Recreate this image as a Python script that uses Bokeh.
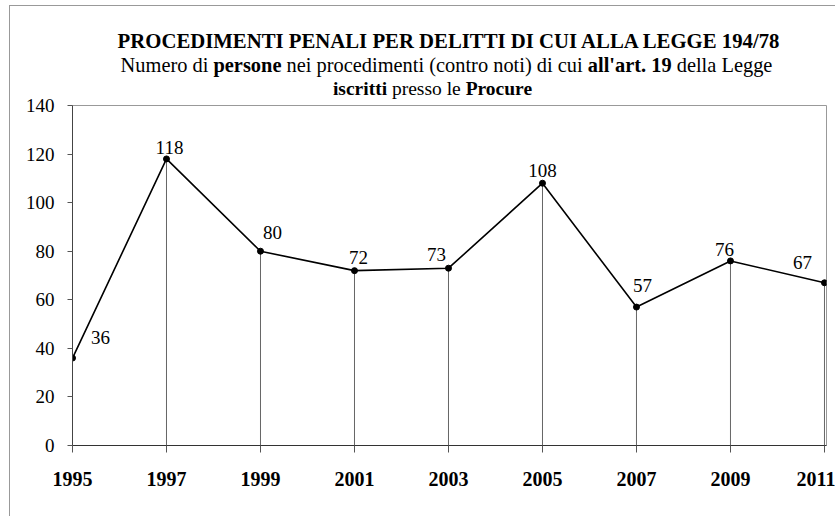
from bokeh.plotting import figure
from bokeh.models import ColumnDataSource, Range1d, FixedTicker, Div
from bokeh.layouts import column
from bokeh.embed import file_html
from bokeh.resources import INLINE

# ---- data ----
years = [1995, 1997, 1999, 2001, 2003, 2005, 2007, 2009, 2011]
persone = [36, 118, 80, 72, 73, 108, 57, 76, 67]
x_tick_labels = ["1995", "1997", "1999", "2001", "2003", "2005", "2007", "2009", "2011"]
y_ticks = [0, 20, 40, 60, 80, 100, 120, 140]

title_line = "PROCEDIMENTI PENALI PER DELITTI DI CUI ALLA LEGGE 194/78"

# ---- label placement (screen pixels, style only) ----
label_dx = [28, 3, 12, 4, -12, 0, 6, -6, -22]
label_dy = [-21, -11, -19, -13, -14, -13, -22, -11, -20]

FONT = "Liberation Serif"

src = ColumnDataSource(dict(
    x=years, y=persone, txt=[str(v) for v in persone],
    y0=[0] * len(years), dx=label_dx, dy=label_dy,
))

header = Div(
    text=(
        '<div style="position:absolute;left:9px;top:5px;width:840px;height:530px;'
        'border-left:1px solid #999;border-top:1px solid #999;z-index:10;pointer-events:none;"></div>'
        f'<div style="display:block;width:835px;text-align:center;font-family:\'{FONT}\';'
        f'line-height:23.5px;color:#000;padding-top:30px;">'
        f'<div style="font-size:20.75px;position:relative;left:31px;"><b>{title_line}</b></div>'
        '<div style="font-size:20.4px;position:relative;left:29px;">Numero di <b>persone</b> nei '
        'procedimenti (contro noti) di cui <b>all\'art. 19</b> della Legge</div>'
        '<div style="font-size:19.5px;position:relative;left:15px;"><b>iscritti</b> presso le '
        '<b>Procure</b></div></div>'
    ),
    width=835, height=92, margin=(0, 0, 0, 0),
)

p = figure(
    width=835, height=424,
    x_range=Range1d(1995, 2011.043), y_range=Range1d(0, 140),
    output_backend="svg", toolbar_location=None,
    min_border_left=72, min_border_right=9, min_border_top=13, min_border_bottom=71,
    background_fill_color="white", border_fill_alpha=0,
    margin=(0, 0, 0, 0),
)
p.outline_line_color = "#999999"
p.outline_line_width = 1
p.xgrid.visible = False
p.ygrid.visible = False

# drop lines
p.segment(x0="x", y0="y0", x1="x", y1="y", source=src, line_color="#666666", line_width=1)
# series
p.line("x", "y", source=src, line_color="black", line_width=1.6)
p.scatter("x", "y", source=src, size=6, color="black")
p.text(x="x", y="y", text="txt", source=src, x_offset="dx", y_offset="dy",
       text_align="center", text_baseline="middle",
       text_font={"value": FONT}, text_font_size="19px", text_color="black")

# axes
xa = p.xaxis[0]
xa.ticker = FixedTicker(ticks=years)
xa.major_label_overrides = {y: l for y, l in zip(years, x_tick_labels)}
xa.major_label_text_font = FONT
xa.major_label_text_font_style = "bold"
xa.major_label_text_font_size = "20px"
xa.major_label_text_color = "black"
xa.major_label_standoff = 19
xa.major_tick_out = 7
xa.major_tick_in = 0
xa.minor_tick_out = 0
xa.minor_tick_in = 0
xa.axis_line_color = "#333333"
xa.major_tick_line_color = "#555555"

ya = p.yaxis[0]
ya.ticker = FixedTicker(ticks=y_ticks)
ya.major_label_text_font = FONT
ya.major_label_text_font_size = "19px"
ya.major_label_text_color = "black"
ya.major_label_standoff = 13
ya.major_tick_out = 5
ya.major_tick_in = 0
ya.minor_tick_out = 0
ya.minor_tick_in = 0
ya.axis_line_color = "#444444"
ya.major_tick_line_color = "#555555"

layout = column(header, p, spacing=0)

open("out.html", "w").write(file_html(layout, INLINE))
